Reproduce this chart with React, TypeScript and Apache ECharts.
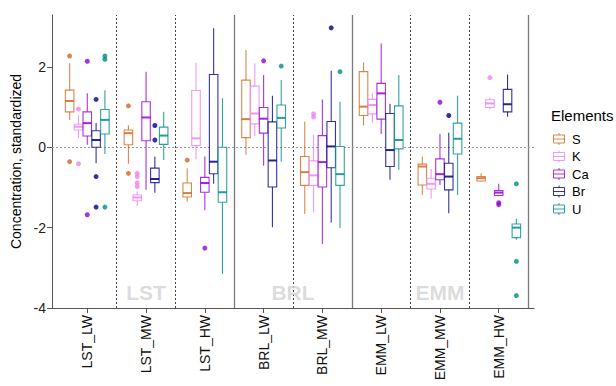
import React, { useEffect, useRef } from "react";
import * as echarts from "echarts";

const categories = ["LST_LW", "LST_MW", "LST_HW", "BRL_LW", "BRL_MW", "EMM_LW", "EMM_MW", "EMM_HW"];
const elements = ["S", "K", "Ca", "Br", "U"];
const colors = ["#D2691E", "#EE82EE", "#9400D3", "#00008B", "#008B8B"];
const dodgeOffsets = [-0.3, -0.15, 0, 0.15, 0.3];

// [low whisker, Q1, median, Q3, high whisker] per category
const sBoxes = [
  [0.68, 0.88, 1.15, 1.42, 2.09],
  [-0.41, 0.06, 0.35, 0.43, 0.55],
  [-1.35, -1.24, -1.14, -0.89, -0.52],
  [-0.19, 0.24, 0.7, 1.67, 2.42],
  [-1.66, -0.95, -0.62, -0.23, 0.64],
  [0.54, 0.79, 1.01, 1.88, 2.11],
  [-1.19, -0.94, -0.48, -0.42, -0.23],
  [-0.86, -0.84, -0.77, -0.73, -0.65],
];
const kBoxes = [
  [0.22, 0.43, 0.51, 0.57, 0.8],
  [-1.46, -1.33, -1.25, -1.19, -1.1],
  [-0.3, 0.04, 0.22, 1.41, 2.1],
  [0.28, 0.58, 0.84, 1.52, 2.09],
  [-1.62, -0.95, -0.7, -0.34, 0.31],
  [0.61, 0.83, 1.05, 1.19, 1.34],
  [-1.28, -1.04, -0.91, -0.77, -0.54],
  [0.94, 0.99, 1.09, 1.18, 1.24],
];
const caBoxes = [
  [0.06, 0.28, 0.6, 0.88, 1.34],
  [-1.06, 0.16, 0.74, 1.13, 1.88],
  [-1.57, -1.12, -0.89, -0.75, -0.23],
  [-0.46, 0.35, 0.71, 0.99, 1.8],
  [-2.41, -0.99, -0.37, 0.29, 1.19],
  [0.33, 0.7, 1.34, 1.59, 2.58],
  [-0.94, -0.81, -0.67, -0.29, 0.33],
  [-1.22, -1.2, -1.13, -1.08, -0.91],
];
const brBoxes = [
  [-0.4, 0.0, 0.18, 0.41, 0.6],
  [-1.13, -0.88, -0.79, -0.52, -0.23],
  [-0.91, -0.66, -0.36, 1.81, 2.96],
  [-1.99, -0.99, -0.33, 0.63, 1.28],
  [-1.87, -0.51, 0.02, 0.64, 1.9],
  [-0.81, -0.48, -0.07, 0.84, 1.08],
  [-1.64, -1.06, -0.73, -0.4, 0.36],
  [0.76, 0.88, 1.07, 1.44, 1.81],
];
const uBoxes = [
  [-0.17, 0.33, 0.68, 0.94, 1.42],
  [-0.32, 0.07, 0.29, 0.5, 0.88],
  [-3.15, -1.37, -1.12, 0.0, 1.22],
  [-0.36, 0.48, 0.73, 1.05, 1.67],
  [-2.01, -0.95, -0.67, 0.02, 1.13],
  [-0.56, -0.04, 0.18, 1.03, 1.8],
  [-1.19, -0.17, 0.21, 0.6, 1.28],
  [-2.3, -2.25, -2.0, -1.91, -1.78],
];

// outliers: [category index, value]
const sOutliers = [[0, 2.27], [0, -0.36], [1, 1.03], [1, -0.65], [2, -0.32]];
const kOutliers = [[0, 0.95], [0, -0.41], [1, -0.65], [1, -0.73], [1, -0.89], [1, -0.98], [4, 0.83], [4, 0.75], [7, 1.73]];
const caOutliers = [[0, 2.14], [0, -1.68], [2, -2.51], [3, 2.15], [6, 1.12], [7, -1.38], [7, -1.43]];
const brOutliers = [[0, 1.19], [0, -0.73], [0, -1.49], [1, 0.54], [1, 0.18], [4, 2.97], [6, 0.79]];
const uOutliers = [[0, 2.27], [0, 2.19], [0, -1.49], [3, 2.02], [4, 1.88], [7, -0.91], [7, -2.84], [7, -3.69]];

const allBoxes = [sBoxes, kBoxes, caBoxes, brBoxes, uBoxes];
const allOutliers = [sOutliers, kOutliers, caOutliers, brOutliers, uOutliers];

const yTicks = [-4, -2, 0, 2];
const xTicks = [0, 1, 2, 3, 4, 5, 6, 7];
const groupNames = ["LST", "BRL", "EMM"];
const groupCenters = [1, 3.5, 6];
const groupLabelY = -3.62;
const separators = [0.5, 1.5, 2.5, 3.5, 4.5, 5.5, 6.5, 7.5];
const separatorSolid = [false, false, true, false, true, false, false, true];

const FONT = "'Liberation Sans', Arial, sans-serif";
const BOX_W = 0.145;

export default function App() {
  const ref = useRef<HTMLDivElement>(null);
  useEffect(() => {
    const chart = echarts.init(ref.current!, null, { renderer: "svg" });

    const boxSeries = allBoxes.map((boxes, k) => ({
      type: "custom",
      name: elements[k],
      xAxisIndex: 0,
      yAxisIndex: 0,
      z: 3,
      silent: true,
      encode: { x: 0, y: [1, 2, 3, 4, 5] },
      data: boxes.map((b, i) => [i + dodgeOffsets[k], ...b]),
      renderItem: (params: any, api: any) => {
        const x = api.value(0);
        const c = colors[k];
        const half = api.size([BOX_W, 0])[0] / 2;
        const pLo = api.coord([x, api.value(1)]);
        const pQ1 = api.coord([x, api.value(2)]);
        const pMed = api.coord([x, api.value(3)]);
        const pQ3 = api.coord([x, api.value(4)]);
        const pHi = api.coord([x, api.value(5)]);
        const cx = pMed[0];
        const ls = { stroke: c, lineWidth: 1.1, opacity: 0.8 };
        return {
          type: "group",
          children: [
            { type: "line", shape: { x1: cx, y1: pHi[1], x2: cx, y2: pQ3[1] }, style: ls },
            { type: "line", shape: { x1: cx, y1: pQ1[1], x2: cx, y2: pLo[1] }, style: ls },
            {
              type: "rect",
              shape: { x: cx - half, y: pQ3[1], width: 2 * half, height: pQ1[1] - pQ3[1] },
              style: { fill: "#ffffff", stroke: c, lineWidth: 1.1, strokeOpacity: 0.8 },
            },
            { type: "line", shape: { x1: cx - half, y1: pMed[1], x2: cx + half, y2: pMed[1] }, style: { stroke: c, lineWidth: 2, opacity: 0.85 } },
          ],
        };
      },
    }));

    const outlierSeries = allOutliers.map((pts, k) => ({
      type: "scatter",
      name: elements[k] + " outliers",
      xAxisIndex: 0,
      yAxisIndex: 0,
      z: 4,
      silent: true,
      symbolSize: 5,
      itemStyle: { color: colors[k] },
      data: pts.map(([ci, v]) => [ci + dodgeOffsets[k], v]),
    }));

    const annotationSeries = {
      type: "scatter",
      name: "groups",
      xAxisIndex: 0,
      yAxisIndex: 0,
      z: 1,
      silent: true,
      symbolSize: 0,
      itemStyle: { color: "transparent" },
      label: {
        show: true,
        position: "inside",
        formatter: (p: any) => groupNames[p.dataIndex],
        fontSize: 21,
        fontWeight: "bold",
        fontFamily: FONT,
        color: "#d3d3d3",
      },
      data: groupCenters.map((g) => [g, groupLabelY]),
      markLine: {
        silent: true,
        symbol: "none",
        label: { show: false },
        z: 1,
        data: [
          ...separators.map((s, i) => ({
            xAxis: s,
            lineStyle: separatorSolid[i]
              ? { color: "#7a7a7a", width: 1.3, type: "solid" }
              : { color: "#444", width: 1, type: [2, 2] },
          })),
          { yAxis: 0, lineStyle: { color: "#999", width: 1, type: [2, 2] } },
        ],
      },
    };

    const legendGraphics: any[] = [
      {
        type: "text",
        x: 551,
        y: 115,
        style: { text: "Elements", fontSize: 15, fontFamily: FONT, fill: "#000", textVerticalAlign: "middle" },
      },
      ...elements.map((e, k) => {
        const c = colors[k];
        const ls = { stroke: c, lineWidth: 1, opacity: 0.8 };
        return {
          type: "group",
          x: 553,
          y: 139 + k * 17.5,
          children: [
            { type: "line", shape: { x1: 6, y1: -6, x2: 6, y2: -4 }, style: ls },
            { type: "rect", shape: { x: 0.5, y: -4, width: 11, height: 8 }, style: { fill: "#fff", stroke: c, lineWidth: 1, opacity: 0.8 } },
            { type: "line", shape: { x1: 0.5, y1: 0, x2: 11.5, y2: 0 }, style: ls },
            { type: "line", shape: { x1: 6, y1: 4, x2: 6, y2: 6 }, style: ls },
            {
              type: "text",
              x: 19,
              y: 0,
              style: { text: e, fontSize: 13, fontFamily: FONT, fill: "#000", textVerticalAlign: "middle" },
            },
          ],
        };
      }),
    ];

    const option: any = {
      animation: false,
      backgroundColor: "#ffffff",
      grid: { left: 52, right: 82, top: 15, bottom: 78, containLabel: false },
      xAxis: [
        {
          type: "value",
          min: -0.6,
          max: 7.6,
          splitLine: { show: false },
          axisLine: { show: true, onZero: false, lineStyle: { color: "#555", width: 1 } },
          axisTick: { show: true, length: 5, customValues: xTicks, lineStyle: { color: "#555" } },
          axisLabel: {
            customValues: xTicks,
            formatter: (v: number) => categories[Math.round(v)] ?? "",
            rotate: 90,
            fontSize: 14,
            fontFamily: FONT,
            color: "#111",
            margin: 7,
          },
        },
      ],
      yAxis: [
        {
          type: "value",
          min: -4,
          max: 3.29,
          name: "Concentration, standardized",
          nameLocation: "middle",
          nameGap: 22,
          nameRotate: 90,
          nameTextStyle: { fontSize: 14, fontFamily: FONT, color: "#000" },
          splitLine: { show: false },
          axisLine: { show: true, onZero: false, lineStyle: { color: "#555", width: 1 } },
          axisTick: { show: true, length: 5, customValues: yTicks, lineStyle: { color: "#555" } },
          axisLabel: {
            customValues: yTicks,
            formatter: (v: number) => String(v),
            fontSize: 14,
            fontFamily: FONT,
            color: "#222",
            margin: 6,
          },
        },
      ],
      graphic: legendGraphics,
      series: [annotationSeries, ...boxSeries, ...outlierSeries],
    };

    chart.setOption(option);
    return () => chart.dispose();
  }, []);
  return <div ref={ref} style={{ position: "fixed", left: 0, top: 0, width: 616, height: 386 }} />;
}
